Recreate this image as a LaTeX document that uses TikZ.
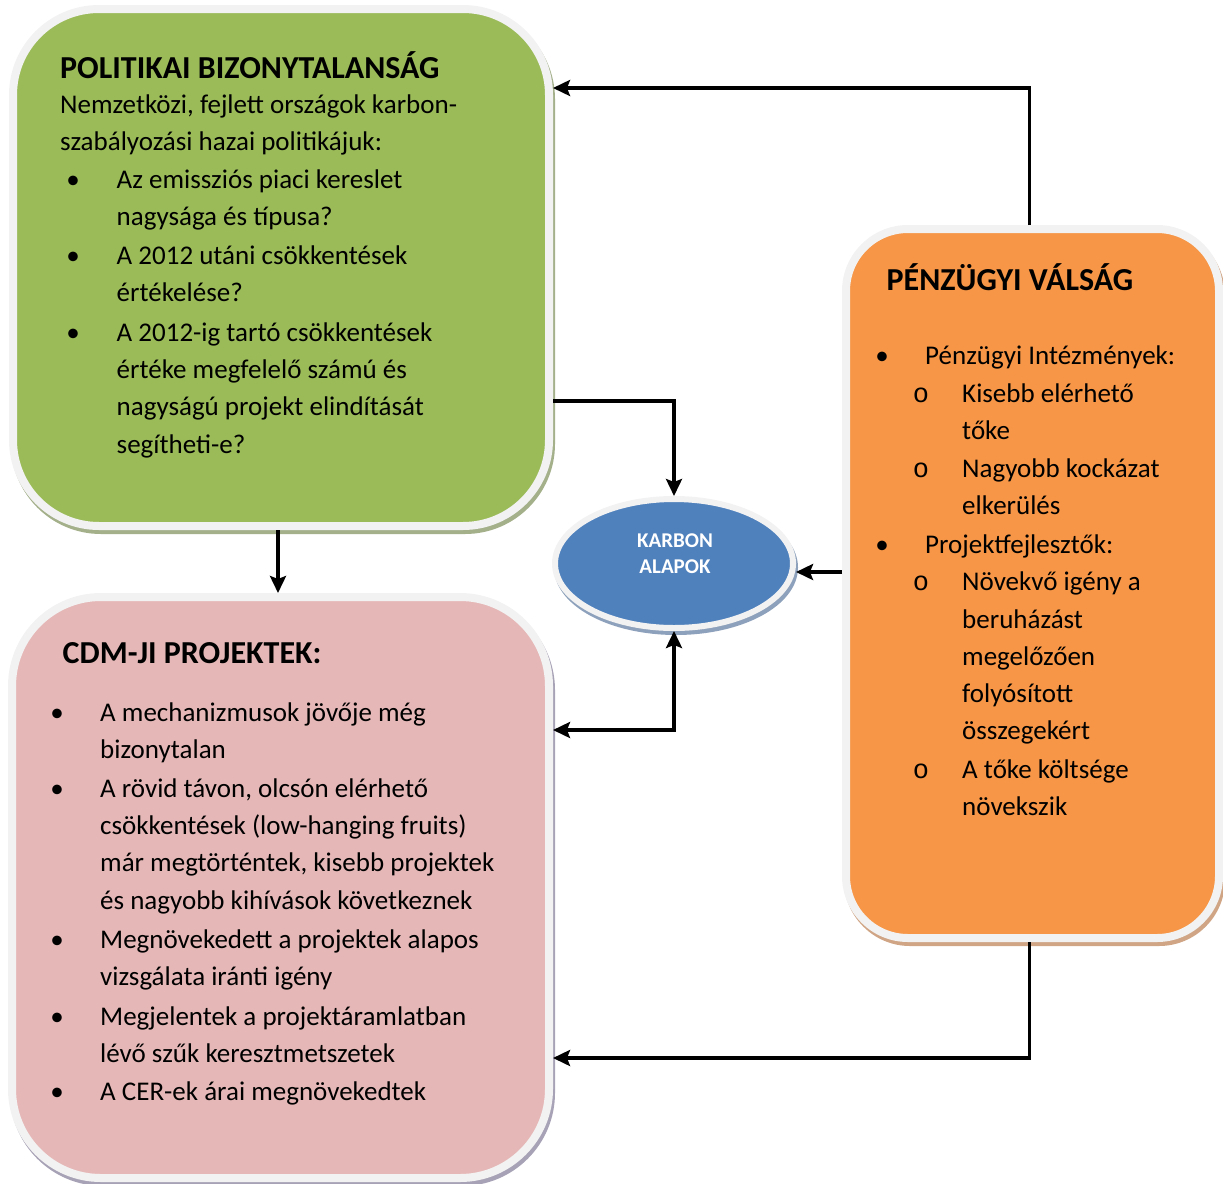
\documentclass[tikz,border=0pt]{standalone}
\usepackage{fontspec}
\setmainfont{Carlito}
\newfontfamily\courfont{Liberation Mono}
\usetikzlibrary{arrows.meta,shapes.geometric}
\definecolor{gfill}{HTML}{9BBB59}
\definecolor{gshad}{HTML}{A3B08A}
\definecolor{pfill}{HTML}{E5B8B7}
\definecolor{pshad}{HTML}{A8A2B6}
\definecolor{ofill}{HTML}{F79646}
\definecolor{oshad}{HTML}{D0A585}
\definecolor{bfill}{HTML}{4F81BD}
\definecolor{bshad}{HTML}{8EA1BC}
\definecolor{rim}{HTML}{F2F2F2}
\tikzset{
  boxshape/.style={rectangle, inner sep=0pt, line width=8pt},
  tx/.style={anchor=base west, inner sep=0pt, font=\fontsize{27}{33}\selectfont},
  ttl/.style={anchor=base west, inner sep=0pt, font=\bfseries\fontsize{32}{38}\selectfont},
  bul/.style={anchor=base, inner sep=0pt, font=\fontsize{27}{33}\selectfont},
  subb/.style={anchor=base, inner sep=0pt, font=\courfont\fontsize{27}{33}\selectfont},
  etx/.style={anchor=base, inner sep=0pt, text=white, font=\bfseries\fontsize{21}{26}\selectfont},
  tip/.style={Stealth[length=17pt,width=16pt,inset=3pt]},
  arr/.style={line width=3.5pt, -{Stealth[length=17pt,width=16pt,inset=3pt]}},
  arr2/.style={line width=3.5pt, {Stealth[length=17pt,width=16pt,inset=3pt]}-{Stealth[length=17pt,width=16pt,inset=3pt]}},
}
\newcommand\myline[4]{\node[tx] (#1) at (#2,#3) {#4};}
\newcommand\mybul[3]{\node[bul] (#1) at (#2,#3) {•};}
\newcommand\mysub[3]{\node[subb] (#1) at (#2,#3) {o};}
\begin{document}
\begin{tikzpicture}[x=1pt,y=-1pt]
\useasboundingbox (0,0) rectangle (1223,1183);
% shadows
\node[boxshape, fill=gshad, draw=gshad, minimum width=536pt, minimum height=517pt, rounded corners=86pt] (gsh) at (283,271.5) {};
\node[boxshape, fill=pshad, draw=pshad, minimum width=537pt, minimum height=581pt, rounded corners=89pt] (psh) at (282.5,891.5) {};
\node[boxshape, fill=oshad, draw=oshad, minimum width=373pt, minimum height=709pt, rounded corners=62pt] (osh) at (1034.5,587.5) {};
\node[ellipse, inner sep=0pt, fill=bshad, draw=bshad, line width=6pt, minimum width=238pt, minimum height=129pt] (ksh) at (676,567.5) {};
% boxes
\node[boxshape, fill=gfill, draw=rim, minimum width=536pt, minimum height=517pt, rounded corners=86pt] (gr) at (281,267.5) {};
\node[boxshape, fill=pfill, draw=rim, minimum width=537pt, minimum height=581pt, rounded corners=89pt] (pk) at (280.5,887.5) {};
\node[boxshape, fill=ofill, draw=rim, minimum width=373pt, minimum height=709pt, rounded corners=62pt] (or) at (1032.5,583.5) {};
\node[ellipse, inner sep=0pt, fill=bfill, draw=rim, line width=6pt, minimum width=238pt, minimum height=129pt] (ka) at (674,563.5) {};
% ellipse text
\node[etx] (k1) at (675,547) {KARBON};
\node[etx] (k2) at (675,573) {ALAPOK};
% green text
\node[ttl] (gt) at (60,78) {POLITIKAI BIZONYTALANSÁG};
\myline{g1}{60}{113}{Nemzetközi, fejlett országok karbon-}
\myline{g2}{60}{150}{szabályozási hazai politikájuk:}
\mybul{gb1}{73}{188}
\myline{g3}{116.5}{188}{Az emissziós piaci kereslet}
\myline{g4}{116.5}{225}{nagysága és típusa?}
\mybul{gb2}{73}{264}
\myline{g5}{116.5}{264}{A 2012 utáni csökkentések}
\myline{g6}{116.5}{301}{értékelése?}
\mybul{gb3}{73}{341}
\myline{g7}{116.5}{341}{A 2012-ig tartó csökkentések}
\myline{g8}{116.5}{378}{értéke megfelelő számú és}
\myline{g9}{116.5}{415}{nagyságú projekt elindítását}
\myline{g10}{116.5}{453}{segítheti-e?}
% orange text
\node[ttl] (ot) at (886.5,290) {PÉNZÜGYI VÁLSÁG};
\mybul{ob1}{882}{364}
\myline{o1}{925}{364}{Pénzügyi Intézmények:}
\mysub{os1}{921}{402}
\myline{o2}{962}{402}{Kisebb elérhető}
\myline{o3}{962}{439}{tőke}
\mysub{os2}{921}{477}
\myline{o4}{962}{477}{Nagyobb kockázat}
\myline{o5}{962}{514}{elkerülés}
\mybul{ob2}{882}{553}
\myline{o6}{925}{553}{Projektfejlesztők:}
\mysub{os3}{921}{590}
\myline{o7}{962}{590}{Növekvő igény a}
\myline{o8}{962}{628}{beruházást}
\myline{o9}{962}{665}{megelőzően}
\myline{o10}{962}{702}{folyósított}
\myline{o11}{962}{739}{összegekért}
\mysub{os4}{921}{778}
\myline{o12}{962}{778}{A tőke költsége}
\myline{o13}{962}{815}{növekszik}
% pink text
\node[ttl] (pt) at (62.5,663) {CDM-JI PROJEKTEK:};
\mybul{pb1}{57}{721}
\myline{p1}{100}{721}{A mechanizmusok jövője még}
\myline{p2}{100}{758}{bizonytalan}
\mybul{pb2}{57}{797}
\myline{p3}{100}{797}{A rövid távon, olcsón elérhető}
\myline{p4}{100}{834}{csökkentések (low-hanging fruits)}
\myline{p5}{100}{871}{már megtörténtek, kisebb projektek}
\myline{p6}{100}{909}{és nagyobb kihívások következnek}
\mybul{pb3}{57}{948}
\myline{p7}{100}{948}{Megnövekedett a projektek alapos}
\myline{p8}{100}{985}{vizsgálata iránti igény}
\mybul{pb4}{57}{1025}
\myline{p9}{100}{1025}{Megjelentek a projektáramlatban}
\myline{p10}{100}{1062}{lévő szűk keresztmetszetek}
\mybul{pb5}{57}{1100}
\myline{p11}{100}{1100}{A CER-ek árai megnövekedtek}
% connectors
\draw[arr] ([xshift=-3pt]or.north) |- ([yshift=179.5pt]gr.east);
\draw[arr] ([yshift=-133.5pt]gr.east) -| (ka.north);
\draw[arr] ([xshift=-3pt]gr.south) -- ([xshift=-2.5pt]pk.north);
\draw[arr] ([yshift=11.5pt]or.west) -- ([yshift=11.5pt]or.west -| ka.east);
\draw[arr2] ([yshift=157.5pt]pk.east) -| (ka.south);
\draw[arr] ([xshift=-3pt]or.south) |- ([yshift=-170.5pt]pk.east);
\end{tikzpicture}
\end{document}
